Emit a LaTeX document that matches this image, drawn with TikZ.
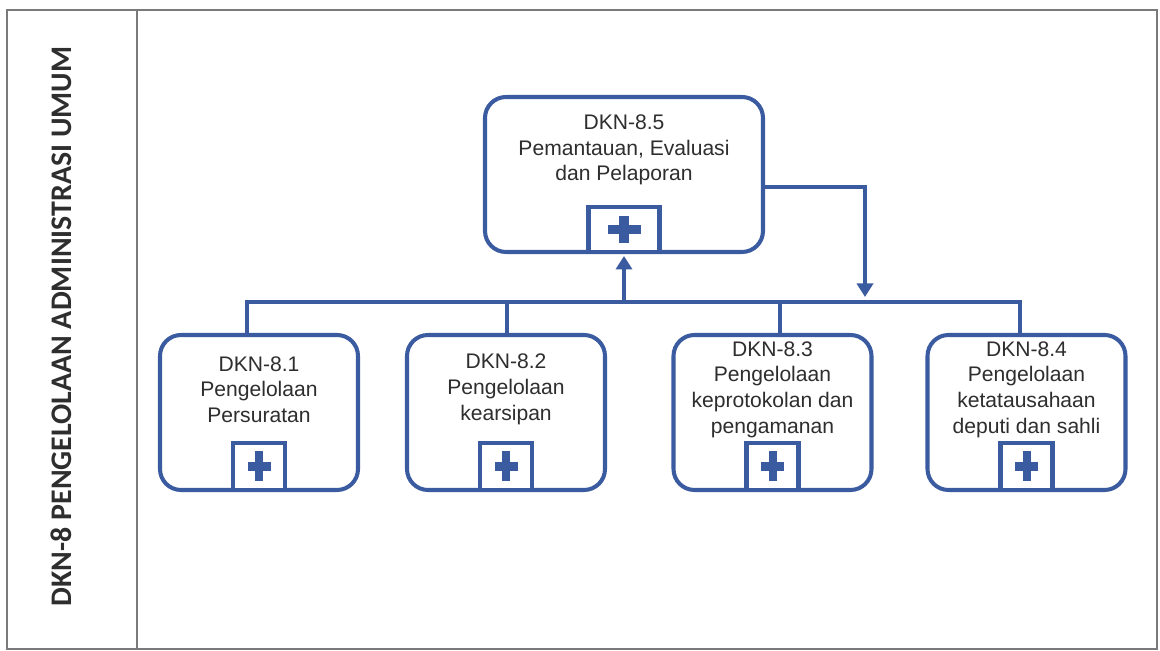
\documentclass[tikz,border=0pt]{standalone}
\usepackage{fontspec}
\setmainfont{Liberation Sans}
\newfontfamily\sidefont{Carlito}
\usetikzlibrary{arrows.meta,positioning,calc}
\definecolor{boxblue}{HTML}{3A5BA0}
\definecolor{frameline}{HTML}{7A7A7A}
\definecolor{textgray}{HTML}{2E2E2E}
\tikzset{
  unitbox/.style={draw=boxblue, line width=2.3pt, rounded corners=0.42cm,
    fill=white, minimum width=3.96cm, minimum height=3.1cm},
  plusbox/.style={draw=boxblue, line width=2.3pt, fill=white, anchor=south,
    inner sep=0pt},
  boxtext/.style={align=center, text=textgray, inner sep=0pt,
    font=\fontsize{12}{14.6}\selectfont},
  link/.style={draw=boxblue, line width=2.3pt},
  arr/.style={link, -{Triangle[width=0.32cm,length=0.27cm]}}
}

\begin{document}
\begin{tikzpicture}[x=1cm,y=1cm]
    \useasboundingbox (0,0) rectangle (23.2,13.02);
    % frame and side title
    \draw[frameline, line width=1pt] (0.14,0.04) rectangle (23.14,12.82);
    \draw[frameline, line width=1pt] (2.74,0.04) -- (2.74,12.82);
    \node[rotate=90, text=textgray, font=\sidefont\bfseries\fontsize{17}{20}\selectfont]
      (title) at (1.22,6.49) {DKN-8 PENGELOLAAN ADMINISTRASI UMUM};
    % monitoring unit
    \node[unitbox, minimum width=5.56cm] (top) at (12.48,9.53) {};
    \node[plusbox, minimum width=1.42cm, minimum height=0.9cm] (ptop) at (top.south) {};
    \node[boxtext] (ttop) at ($(top.north)!0.5!(ptop.north)$)
      {DKN-8.5\\Pemantauan, Evaluasi\\dan Pelaporan};
    \fill[boxblue] ([xshift=-0.33cm,yshift=-0.09cm]ptop.center) rectangle ([xshift=0.33cm,yshift=0.09cm]ptop.center);
    \fill[boxblue] ([xshift=-0.1cm,yshift=-0.27cm]ptop.center) rectangle ([xshift=0.1cm,yshift=0.27cm]ptop.center);
    % sub units
    \foreach \x/\dx/\n/\lab in {
      5.18/-0.24/1/DKN-8.1\\Pengelolaan\\Persuratan,
      10.12/0.02/2/DKN-8.2\\Pengelolaan\\kearsipan,
      15.45/0.15/3/DKN-8.3\\Pengelolaan\\keprotokolan dan\\pengamanan,
      20.53/-0.13/4/DKN-8.4\\Pengelolaan\\ketatausahaan\\deputi dan sahli} {
      \node[unitbox] (c\n) at (\x,4.77) {};
      \node[plusbox, minimum width=1.04cm, minimum height=0.94cm] (p\n) at (c\n.south) {};
      \node[boxtext] (t\n) at ($(c\n.north)!0.5!(p\n.north)+(0,-0.05)$) {\lab};
      \fill[boxblue] ([xshift=-0.23cm,yshift=-0.085cm]p\n.center) rectangle ([xshift=0.23cm,yshift=0.085cm]p\n.center);
      \fill[boxblue] ([xshift=-0.08cm,yshift=-0.3cm]p\n.center) rectangle ([xshift=0.08cm,yshift=0.3cm]p\n.center);
      \coordinate (b\n) at ({\x+(\dx)},6.98);
    }
    % connectors
    \draw[link] (b1 |- c1.north) -- (b1) -- (b4) -- (b4 |- c4.north);
    \foreach \n in {2,3}
      \draw[link] (b\n) -- (b\n |- c\n.north);
    \draw[arr, shorten >=1.1pt] (top.south |- b1) -- (top.south);
    \coordinate (fb) at (17.3,7.08);
    \draw[arr] ([yshift=-0.25cm]top.east) -| (fb);
  \end{tikzpicture}
\end{document}
